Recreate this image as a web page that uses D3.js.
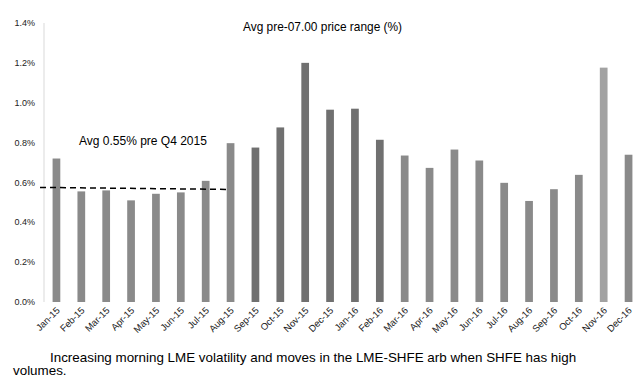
<!DOCTYPE html>
<html>
<head>
<meta charset="utf-8">
<script src="https://cdn.jsdelivr.net/npm/d3@7"></script>
<style>
  body { margin: 0; background: #fff; }
  text { font-family: Arial, "Liberation Sans", sans-serif; }
</style>
</head>
<body>
<div id="chart"></div>
<script>
const months = ["Jan-15", "Feb-15", "Mar-15", "Apr-15", "May-15", "Jun-15", "Jul-15", "Aug-15",
    "Sep-15", "Oct-15", "Nov-15", "Dec-15", "Jan-16", "Feb-16", "Mar-16", "Apr-16",
    "May-16", "Jun-16", "Jul-16", "Aug-16", "Sep-16", "Oct-16", "Nov-16", "Dec-16"];
const range = [0.72, 0.555, 0.56, 0.51, 0.543, 0.55, 0.608, 0.797,
    0.775, 0.876, 1.20, 0.965, 0.97, 0.814, 0.735, 0.673,
    0.765, 0.71, 0.598, 0.507, 0.566, 0.638, 1.176, 0.739];
const yTicks = [0, 0.2, 0.4, 0.6, 0.8, 1.0, 1.2, 1.4];
const avgMonths = ["Jan-15", "Aug-15"];
const avgValues = [0.575, 0.565];

// shading groups seen in the picture
const darkMonths = ["Sep-15", "Oct-15", "Nov-15", "Dec-15", "Jan-16", "Feb-16"];
const lightMonths = ["Nov-16"];

const width = 644, height = 386;
const margin = { left: 44, right: 3, top: 23, bottom: 84 };

const svg = d3.select("#chart").append("svg")
    .attr("width", width)
    .attr("height", height);

const x = d3.scaleBand()
    .domain(months)
    .range([margin.left, width - margin.right])
    .paddingInner(0.69)
    .paddingOuter(0.345);

const y = d3.scaleLinear()
    .domain([0, 1.4])
    .range([height - margin.bottom, margin.top]);

// y axis line
svg.append("line")
    .attr("x1", margin.left).attr("x2", margin.left)
    .attr("y1", y(0)).attr("y2", y(1.4))
    .attr("stroke", "#d9d9d9");

svg.selectAll(".ylab")
    .data(yTicks)
    .enter()
    .append("text")
    .attr("x", 35)
    .attr("y", d => y(d))
    .attr("dy", "0.35em")
    .attr("text-anchor", "end")
    .attr("font-size", 9)
    .attr("fill", "#222")
    .text(d => d.toFixed(1) + "%");

svg.selectAll("rect")
    .data(months)
    .enter()
    .append("rect")
    .attr("x", d => x(d))
    .attr("width", x.bandwidth())
    .attr("y", (d, i) => y(range[i]))
    .attr("height", (d, i) => y(0) - y(range[i]))
    .attr("fill", d => darkMonths.includes(d) ? "#707070" : lightMonths.includes(d) ? "#a2a2a2" : "#8a8a8a");

svg.selectAll(".xlab")
    .data(months)
    .enter()
    .append("text")
    .attr("transform", d => `translate(${x(d) + x.bandwidth() / 2 + 4},${y(0) + 9}) rotate(-45)`)
    .attr("text-anchor", "end")
    .attr("font-size", 9.5)
    .attr("fill", "#222")
    .text(d => d);

// dashed average line
const avgX = [40, x(avgMonths[1]) + x.bandwidth() / 2 - 3];
svg.append("line")
    .attr("x1", avgX[0]).attr("y1", y(avgValues[0]))
    .attr("x2", avgX[1]).attr("y2", y(avgValues[1]))
    .attr("stroke", "#000")
    .attr("stroke-width", 1.5)
    .attr("stroke-dasharray", "6,4");

svg.append("text")
    .attr("x", 79).attr("y", 145)
    .attr("font-size", 12)
    .attr("fill", "#000")
    .text("Avg 0.55% pre Q4 2015");

svg.append("text")
    .attr("x", 243).attr("y", 31)
    .attr("font-size", 11.9)
    .attr("fill", "#000")
    .text("Avg pre-07.00 price range (%)");

svg.append("text")
    .attr("x", 50).attr("y", 362)
    .attr("font-size", 13.4)
    .attr("fill", "#000")
    .text("Increasing morning LME volatility and moves in the LME-SHFE arb when SHFE has high");

svg.append("text")
    .attr("x", 13).attr("y", 375)
    .attr("font-size", 13.4)
    .attr("fill", "#000")
    .text("volumes.");
</script>
</body>
</html>
